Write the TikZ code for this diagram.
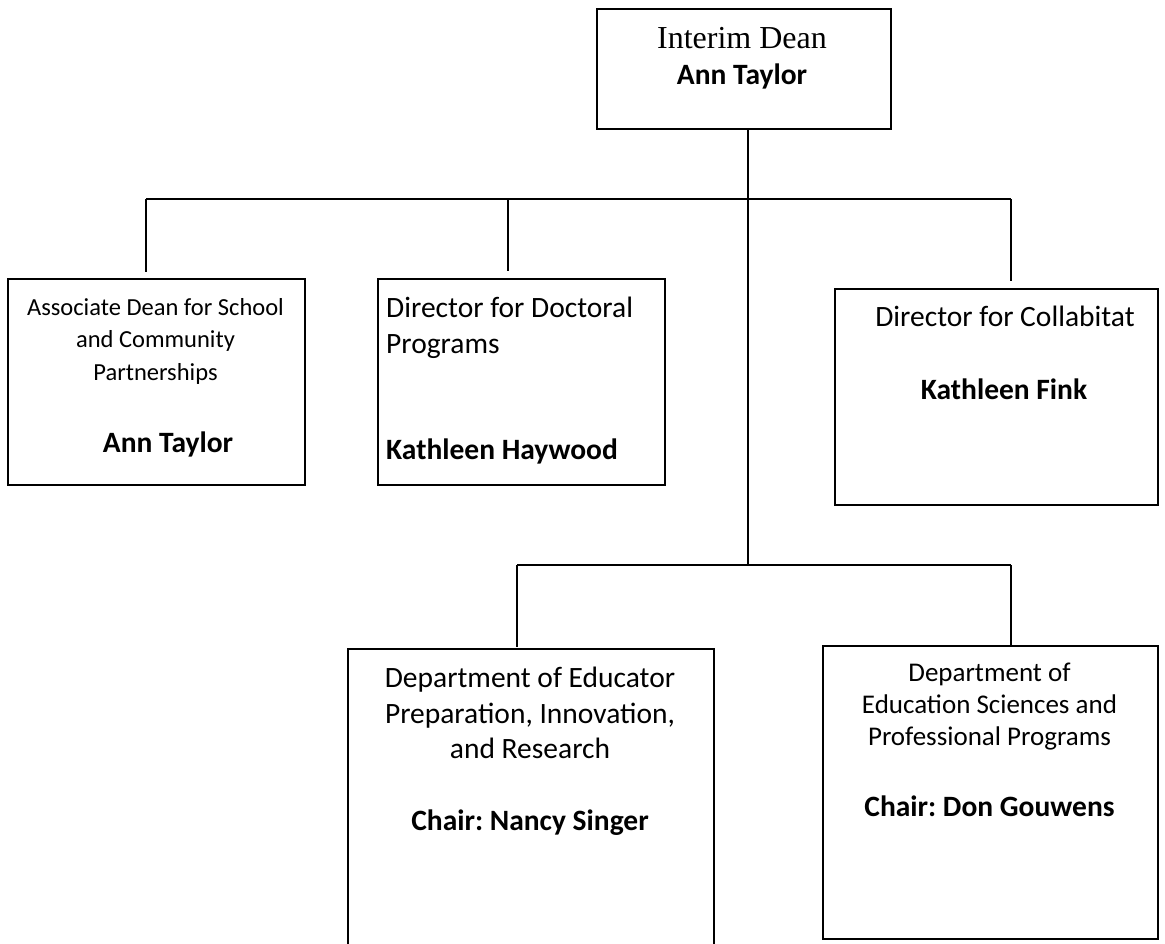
\documentclass[tikz,border=0pt]{standalone}
\usepackage{fontspec}
\setmainfont{Carlito}
\newfontfamily\deanfont{Liberation Serif}
\usetikzlibrary{positioning}
\frenchspacing

\begin{document}
\begin{tikzpicture}[x=1pt,y=-1pt]

\tikzset{post/.style={draw, line width=1.6pt, anchor=north west, inner sep=0pt},
         wire/.style={line width=1.6pt},
         smalltitle/.style={anchor=north, inner sep=0pt, align=center, font=\fontsize{24.5}{32.5}\selectfont},
         midtitle/.style={anchor=north, inner sep=0pt, align=center, font=\fontsize{27}{32}\selectfont},
         bigtitle/.style={anchor=north, inner sep=0pt, align=center, font=\fontsize{29.5}{35.5}\selectfont},
         holder/.style={anchor=base, inner sep=0pt, font=\fontsize{29.5}{35}\selectfont\bfseries}}

\useasboundingbox (0,0) rectangle (1165,944);

\node[post, minimum width=294pt, minimum height=120pt] (dean) at (596,8) {};
\node[anchor=base, inner sep=0pt, font=\deanfont\fontsize{32}{38}\selectfont] (deantitle) at (742,49) {Interim Dean};
\node[holder] (deanname) at (742,84.5) {Ann Taylor};

\node[post, minimum width=297pt, minimum height=206pt] (assoc) at (7,278) {};
\node[smalltitle] (assoctitle) at (155.5,298) {Associate Dean for School\\ and Community\\ Partnerships};
\node[holder] (assocname) at (168,452) {Ann Taylor};

\node[post, minimum width=287pt, minimum height=206pt] (doct) at (377,278) {};
\node[bigtitle, anchor=north west, align=left] (docttitle) at (386,297) {Director for Doctoral\\ Programs};
\node[holder, anchor=base west] (doctname) at (386,459.5) {Kathleen Haywood};

\node[post, minimum width=323pt, minimum height=216pt] (collab) at (834,288) {};
\node[holder, font=\fontsize{29.5}{35}\selectfont] (collabtitle) at (1005,326.5) {Director for Collabitat};
\node[holder] (collabname) at (1004,399.5) {Kathleen Fink};

\node[post, minimum width=366pt, minimum height=310pt] (educ) at (347,648) {};
\node[bigtitle] (eductitle) at (530,667) {Department of Educator\\ Preparation, Innovation,\\ and Research};
\node[holder] (educname) at (530,830.5) {Chair: Nancy Singer};

\node[post, minimum width=335pt, minimum height=293pt] (sci) at (822,645) {};
\node[midtitle] (scititle) at (989.5,663) {Department of\\ Education Sciences and\\ Professional Programs};
\node[holder] (sciname) at (989.5,816.5) {Chair: Don Gouwens};

\coordinate (upleft) at (146,199);
\coordinate (upmid) at (508,199);
\coordinate (upright) at (1011,199);
\coordinate (lowleft) at (517,565);
\coordinate (lowright) at (1011,565);
\coordinate (lowhub) at (748,565);

\draw[wire] (dean.south -| lowhub) -- (lowhub);
\draw[wire] (upleft) -- (upright);
\draw[wire] (upleft) -- ([yshift=6pt]assoc.north -| upleft);
\draw[wire] (upmid) -- ([yshift=7pt]doct.north -| upmid);
\draw[wire] (upright) -- ([yshift=7pt]collab.north -| upright);
\draw[wire] (lowleft) -- (lowright);
\draw[wire] (lowleft) -- ([yshift=1pt]educ.north -| lowleft);
\draw[wire] (lowright) -- ([yshift=-2pt]sci.north -| lowright);

\end{tikzpicture}
\end{document}
